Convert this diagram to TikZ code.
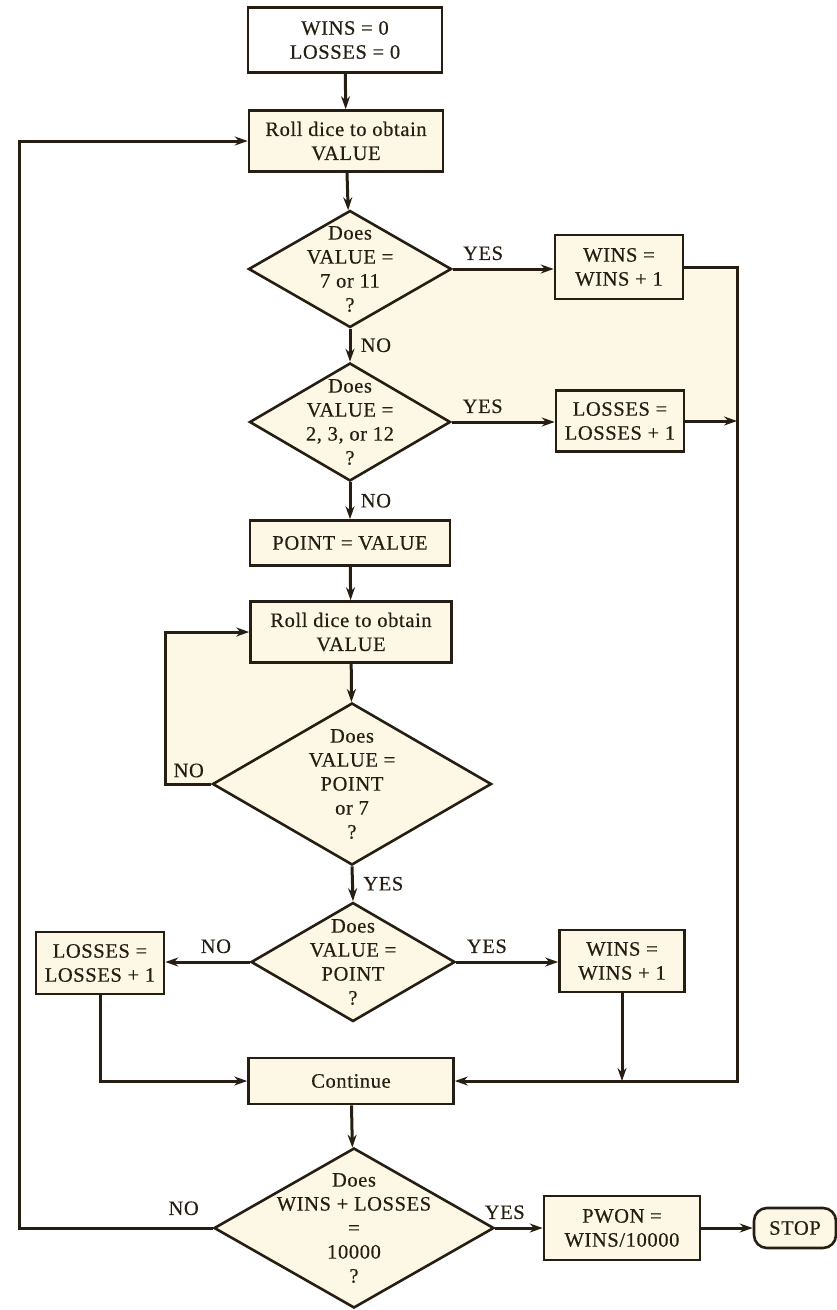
\documentclass[tikz,border=0pt]{standalone}
\usepackage{fontspec}
\setmainfont[LetterSpace=3, FakeBold=0.4]{Liberation Serif}
\usetikzlibrary{arrows.meta, shapes.geometric, positioning}
\definecolor{ink}{RGB}{38,30,18}
\definecolor{cream}{RGB}{253,247,230}

\begin{document}
\begin{tikzpicture}[x=1pt, y=-1pt, line width=2.6pt, draw=ink, text=ink,
  every node/.style={font=\fontsize{20.5}{24}\selectfont, align=center},
  box/.style={draw, fill=cream, inner sep=0pt},
  dia/.style={draw, diamond, fill=cream, inner sep=0pt},
  arr/.style={-{Stealth[length=13pt, width=9pt]}, line width=3pt}]
\useasboundingbox (0,0) rectangle (837,1310);
\fill[cream] (451,270) -- (737,270) -- (737,421) -- (451,421) -- (350,365) -- (350,328) -- cycle;
\fill[cream] (165,632) -- (251,632) -- (251,663) -- (351,663) -- (352,703) -- (213,783) -- (165,783) -- cycle;

\node[box, fill=white, minimum width=194pt, minimum height=65pt] (init) at (345,40) {WINS\ = 0\\LOSSES\ = 0};
\node[box, minimum width=194pt, minimum height=61pt] (roll1) at (346,141) {Roll dice to obtain\\VALUE};
\node[dia, minimum width=203pt, minimum height=117pt] (dec1) at (350,269) {};
\node (txt1) at (dec1) {Does\\VALUE\ =\\7 or 11\\?};
\node[box, minimum width=128pt, minimum height=64pt] (win1) at (619,267) {WINS\ =\\WINS\ + 1};
\node[dia, minimum width=201pt, minimum height=118pt] (dec2) at (350,422) {};
\node (txt2) at (dec2) {Does\\VALUE\ =\\2, 3, or 12\\?};
\node[box, minimum width=128pt, minimum height=61pt] (lose1) at (620,421) {LOSSES\ =\\LOSSES\ + 1};
\node[box, minimum width=200pt, minimum height=45pt] (point) at (350,543) {POINT\ =\ VALUE};
\node[box, minimum width=201pt, minimum height=61pt] (roll2) at (351,632) {Roll dice to obtain\\VALUE};
\node[dia, minimum width=279pt, minimum height=162pt] (dec3) at (352,784) {};
\node (txt3) at (dec3) {Does\\VALUE =\\POINT\\or 7\\?};
\node[dia, minimum width=204pt, minimum height=119pt] (dec4) at (353,962) {};
\node (txt4) at (dec4) {Does\\VALUE =\\POINT\\?};
\node[box, minimum width=128pt, minimum height=62pt] (lose2) at (100,963) {LOSSES =\\LOSSES + 1};
\node[box, minimum width=125pt, minimum height=62pt] (win2) at (622,961) {WINS =\\WINS + 1};
\node[box, minimum width=205pt, minimum height=46pt] (cont) at (351,1081) {Continue};
\node[dia, minimum width=280pt, minimum height=160pt] (dec5) at (354,1228) {};
\node (txt5) at (dec5) {Does\\WINS + LOSSES\\=\\10000\\?};
\node[box, minimum width=156pt, minimum height=64pt] (pwon) at (622,1228) {PWON =\\WINS/10000};
\node[box, rounded corners=13pt, minimum width=82pt, minimum height=40pt] (stop) at (795,1228) {STOP};

\coordinate (rc) at (737,1081);
\coordinate (lp) at (165,784);
\coordinate (outer) at (19,1228);

\draw[arr] (init) -- (roll1);
\draw[arr] (roll1) -- (dec1);
\draw[arr] (dec1.east) -- node[above=4pt, pos=0.3] (yes1) {YES} (dec1.east -| win1.west);
\draw[arr] (dec1.south) -- node[right=6pt] (no1) {NO} (dec2.north);
\draw[arr] (win1.east) -| (rc) -- (cont.east);
\draw[arr] (dec2.east) -- node[above=4pt, pos=0.3] (yes2) {YES} (dec2.east -| lose1.west);
\draw[arr] (lose1.east) -- (lose1.east -| rc);
\draw[arr] (dec2.south) -- node[right=6pt] (no2) {NO} (point.north);
\draw[arr] (point) -- (roll2);
\draw[arr] (roll2) -- (dec3);
\draw[arr] (dec3.west) -- (lp) |- (roll2.west);
\node[above right=2pt and 4pt of lp] (no3) {NO};
\draw[arr] (dec3.south) -- node[right=6pt] (yes3) {YES} (dec4.north);
\draw[arr] (dec4.west) -- node[above=4pt, pos=0.4] (no4) {NO} (dec4.west -| lose2.east);
\draw[arr] (dec4.east) -- node[above=4pt, pos=0.3] (yes4) {YES} (dec4.east -| win2.west);
\draw[arr] (lose2.south) |- (cont.west);
\draw[arr] (win2.south) -- (win2.south |- rc);
\draw[arr] (cont) -- (dec5);
\draw[arr] (dec5.west) -- node[above=8pt, pos=0.15] (no5) {NO} (outer) |- (roll1.west);
\draw[arr] (dec5.east) -- node[above=4pt, pos=0.2] (yes5) {YES} (pwon.west);
\draw[arr] (pwon) -- (stop);
\end{tikzpicture}
\end{document}
